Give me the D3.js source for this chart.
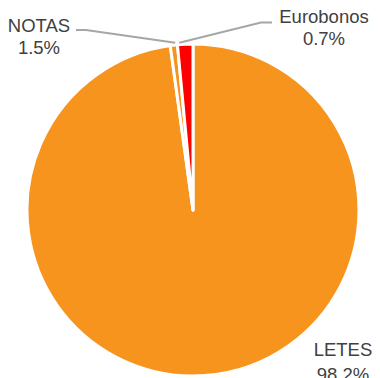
<!DOCTYPE html>
<html>
<head>
  <meta charset="utf-8">
  <title>Composición</title>
  <script src="https://d3js.org/d3.v7.min.js"></script>
  <style>
    body { margin: 0; background: #fff; overflow: hidden; }
    text { font-family: "Liberation Sans", Arial, sans-serif; font-size: 18.5px; fill: #404040; }
  </style>
</head>
<body>
<svg width="380" height="378"></svg>
<script>
// datos
const categorias = ["LETES", "Eurobonos", "NOTAS"];
const valores = [98.2, 0.7, 1.5];
const etiquetas = ["98.2%", "0.7%", "1.5%"];
const colores = ["#F7941E", "#F7941E", "#FF0000"];

const svg = d3.select("svg");
const cx = 193, cy = 210, r = 166;

const pie = d3.pie().sort(null).value(d => d)(valores);
const arc = d3.arc().innerRadius(0).outerRadius(r);

const g = svg.append("g").attr("transform", `translate(${cx},${cy})`);
g.selectAll("path").data(pie).join("path")
  .attr("d", arc)
  .attr("fill", (d, i) => colores[i])
  .attr("stroke", "#fff")
  .attr("stroke-width", 3)
  .attr("stroke-linejoin", "round");

// punto en el borde entre Eurobonos y NOTAS
const borde = pie[1].endAngle;
const px = cx + (r + 2) * Math.sin(borde);
const py = cy - (r + 2) * Math.cos(borde);

// posiciones de las etiquetas (LETES queda cortada abajo, como en el original)
const pos = {
  LETES: { x: 343, y: 356, dy: 25 },
  Eurobonos: { x: 324, y: 23, dy: 22, linea: [[272, 22.5], [261, 22.5], [px + 2, py]] },
  NOTAS: { x: 39, y: 32, dy: 21.5, linea: [[76, 30], [86, 30], [px - 2, py]] }
};

const linea = d3.line();
categorias.forEach((c, i) => {
  const p = pos[c];
  if (p.linea) {
    svg.append("path").attr("d", linea(p.linea))
      .attr("fill", "none").attr("stroke", "#A6A6A6").attr("stroke-width", 2);
  }
  const t = svg.append("text").attr("text-anchor", "middle").attr("x", p.x).attr("y", p.y);
  t.append("tspan").attr("x", p.x).text(c);
  t.append("tspan").attr("x", p.x).attr("dy", p.dy).text(etiquetas[i]);
});
</script>
</body>
</html>
